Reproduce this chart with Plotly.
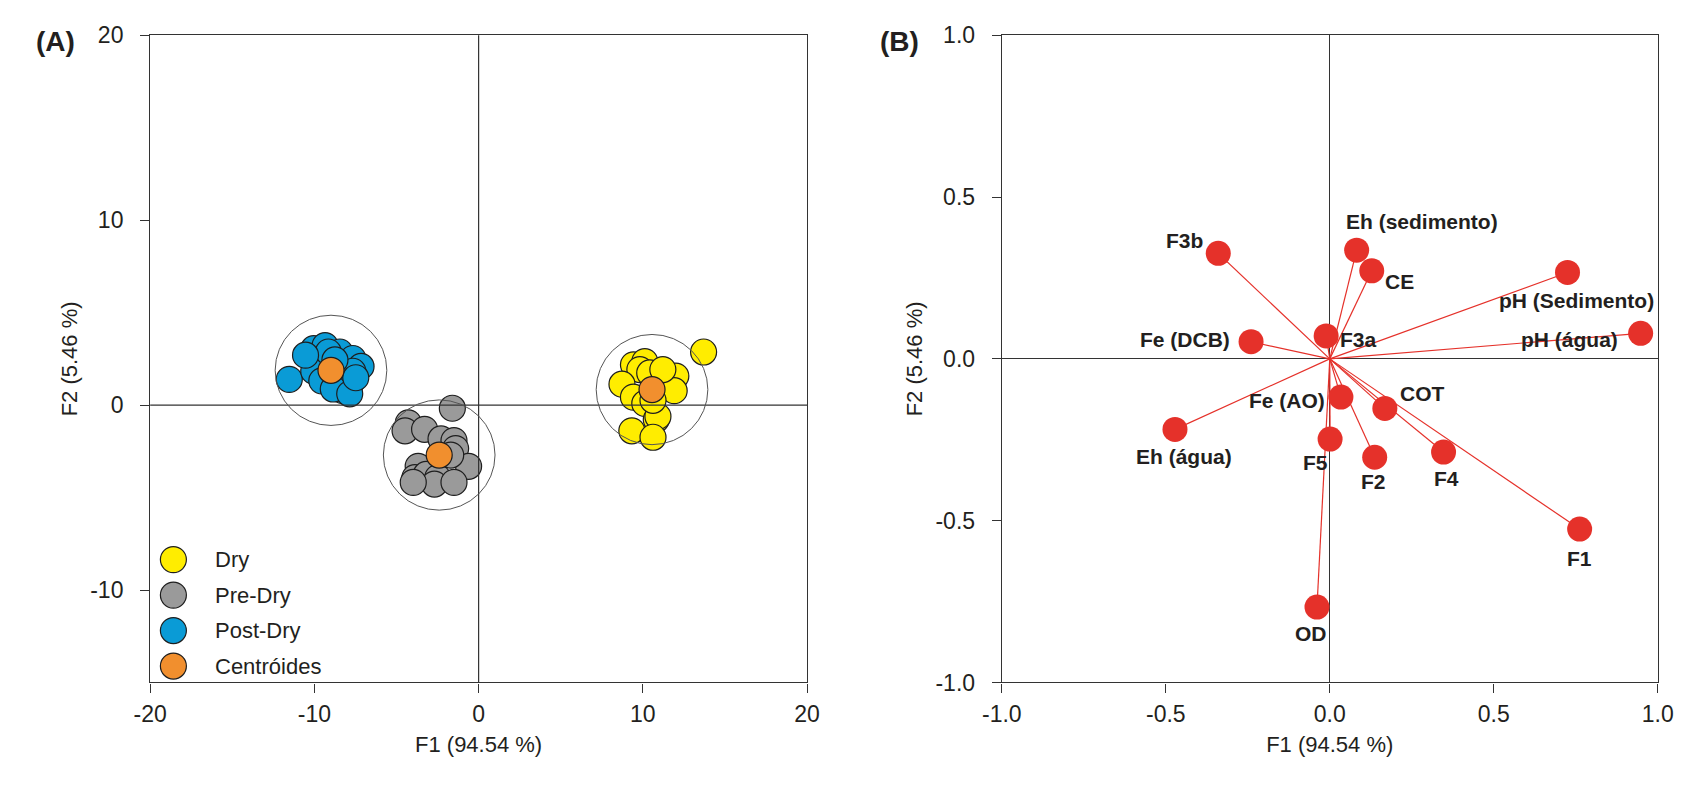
import plotly.graph_objects as go

# ---------------- Panel A data (F1 / F2 scores) ----------------
dry_x = [13.70, 9.43, 10.12, 9.82, 10.42, 12.01, 8.73, 11.91, 9.43, 10.12, 10.82, 10.92, 9.33, 10.62, 11.22, 10.62]
dry_y = [2.87, 2.18, 2.35, 1.92, 1.74, 1.57, 1.13, 0.78, 0.43, 0.09, -0.78, -0.61, -1.39, -1.74, 1.92, 0.26]

predry_x = [-1.60, -4.28, -4.48, -3.29, -2.29, -1.50, -1.40, -0.61, -3.68, -3.88, -3.19, -2.49, -2.69, -1.50, -3.98, -1.70]
predry_y = [-0.17, -0.96, -1.39, -1.31, -1.83, -1.92, -2.35, -3.31, -3.31, -3.92, -3.75, -3.92, -4.27, -4.18, -4.18, -2.70]

postdry_x = [-11.53, -10.04, -9.35, -8.45, -7.66, -7.16, -9.74, -10.04, -9.55, -7.66, -7.76, -8.25, -8.85, -7.85, -9.15, -10.54, -8.75, -7.48]
postdry_y = [1.39, 3.05, 3.22, 2.87, 2.52, 2.09, 2.26, 1.83, 1.31, 1.83, 1.22, 0.78, 0.87, 0.61, 2.87, 2.70, 2.44, 1.48]

centroid_x = [10.56, -2.40, -8.99]   # Dry, Pre-Dry, Post-Dry
centroid_y = [0.84, -2.70, 1.88]

legend_names = ["Dry", "Pre-Dry", "Post-Dry", "Centróides"]

a_xticks = [-20, -10, 0, 10, 20]
a_xticklabels = ["-20", "-10", "0", "10", "20"]
a_yticks = [-10, 0, 10, 20]
a_yticklabels = ["-10", "0", "10", "20"]

# ---------------- Panel B data (variable loadings) ----------------
var_names = ["F1", "F2", "F3a", "F3b", "F4", "F5", "Fe (AO)", "Fe (DCB)", "COT", "CE", "OD",
             "pH (água)", "pH (Sedimento)", "Eh (água)", "Eh (sedimento)"]
load_x = [0.762, 0.137, -0.011, -0.340, 0.347, 0.001, 0.034, -0.240, 0.168, 0.128, -0.039,
          0.948, 0.725, -0.472, 0.082]
load_y = [-0.526, -0.304, 0.071, 0.326, -0.288, -0.248, -0.118, 0.053, -0.153, 0.272, -0.767,
          0.079, 0.267, -0.218, 0.336]

b_ticks = [-1.0, -0.5, 0.0, 0.5, 1.0]
b_ticklabels = ["-1.0", "-0.5", "0.0", "0.5", "1.0"]

# ---------------- styles ----------------
W, H = 1706, 799
FONT = "Arial, Liberation Sans, sans-serif"
C_DRY, C_PRE, C_POST, C_CEN = "#FFED00", "#9A9A9A", "#0A9BD6", "#F18F2E"
C_RED = "#E5312A"
AXC = "#333333"
TXT = "#231F20"

# label offsets (pixels) for panel B annotations
label_offsets = {
    "F1": (0, -29), "F2": (-1, -24), "F3a": (32, -4), "F3b": (-34, 13), "F4": (3, -26),
    "F5": (-15, -23), "Fe (AO)": (-54, -3), "Fe (DCB)": (-66, 2), "COT": (38, 15),
    "CE": (28, -11), "OD": (-6, -26), "pH (água)": (-71, -6), "pH (Sedimento)": (9, -28),
    "Eh (água)": (9, -27), "Eh (sedimento)": (65, 29),
}

fig = go.Figure()

mk_line = dict(color="#1E1E1E", width=1.2)
MS = 26
fig.add_trace(go.Scatter(x=dry_x, y=dry_y, mode="markers", name="Dry",
                         marker=dict(size=MS, color=C_DRY, line=mk_line), xaxis="x", yaxis="y"))
fig.add_trace(go.Scatter(x=predry_x, y=predry_y, mode="markers", name="Pre-Dry",
                         marker=dict(size=MS, color=C_PRE, line=mk_line), xaxis="x", yaxis="y"))
fig.add_trace(go.Scatter(x=postdry_x, y=postdry_y, mode="markers", name="Post-Dry",
                         marker=dict(size=MS, color=C_POST, line=mk_line), xaxis="x", yaxis="y"))
fig.add_trace(go.Scatter(x=centroid_x, y=centroid_y, mode="markers", name="Centróides",
                         marker=dict(size=MS, color=C_CEN, line=mk_line), xaxis="x", yaxis="y"))

# Panel B vectors
vx, vy = [], []
for x, y in zip(load_x, load_y):
    vx += [0, x, None]
    vy += [0, y, None]
fig.add_trace(go.Scatter(x=vx, y=vy, mode="lines", line=dict(color=C_RED, width=1.2),
                         xaxis="x2", yaxis="y2", hoverinfo="skip"))
fig.add_trace(go.Scatter(x=load_x, y=load_y, mode="markers", text=var_names,
                         marker=dict(size=25, color=C_RED), xaxis="x2", yaxis="y2"))

ann = []
for name, x, y in zip(var_names, load_x, load_y):
    dx, dy = label_offsets[name]
    ann.append(dict(x=x, y=y, xref="x2", yref="y2", text="<b>" + name + "</b>", showarrow=False,
                    xanchor="center", yanchor="middle",
                    xshift=dx, yshift=dy, font=dict(family=FONT, size=21, color=TXT)))

# panel letters
ann.append(dict(x=36 / W, y=1 - 29 / H, xref="paper", yref="paper", text="<b>(A)</b>", showarrow=False,
                xanchor="center", yanchor="middle", font=dict(family=FONT, size=28, color=TXT)))
ann.append(dict(x=898 / W, y=1 - 29 / H, xref="paper", yref="paper", text="<b>(B)</b>", showarrow=False,
                xanchor="center", yanchor="middle", font=dict(family=FONT, size=28, color=TXT)))

shapes = []
# zero lines panel A (above markers)
shapes.append(dict(type="line", xref="x", yref="y domain", x0=0, x1=0, y0=0, y1=1,
                   line=dict(color=AXC, width=1.2), layer="above"))
shapes.append(dict(type="line", xref="x domain", yref="y", x0=0, x1=1, y0=0, y1=0,
                   line=dict(color=AXC, width=1.2), layer="above"))
# confidence circles around centroids
rx, ry = 3.40, 2.98
for cx, cy in zip(centroid_x, centroid_y):
    shapes.append(dict(type="circle", xref="x", yref="y", x0=cx - rx, x1=cx + rx, y0=cy - ry, y1=cy + ry,
                       line=dict(color="#555555", width=1), layer="above"))

# manual legend in panel A
leg_colors = [C_DRY, C_PRE, C_POST, C_CEN]
leg_y = [565, 601.7, 638.3, 675]
for name, col, py in zip(legend_names, leg_colors, leg_y):
    shapes.append(dict(type="circle", xref="paper", yref="paper", xsizemode="pixel", ysizemode="pixel",
                       xanchor=156.7 / W, yanchor=1 - py / H, x0=-13, x1=13, y0=-13, y1=13,
                       fillcolor=col, line=dict(color="#1E1E1E", width=1.2), layer="above"))
    ann.append(dict(x=197 / W, y=1 - py / H, xref="paper", yref="paper", text=name, showarrow=False,
                    xanchor="left", yanchor="middle", font=dict(family=FONT, size=22, color=TXT)))

axis_common = dict(showgrid=False, zeroline=False, showline=True, mirror=True, linecolor=AXC,
                   linewidth=1.3, ticks="outside", ticklen=9, tickwidth=1.3, tickcolor=AXC,
                   tickfont=dict(family=FONT, size=23, color=TXT))
title_font = dict(family=FONT, size=22, color=TXT)

ydom = [1 - 692 / H, 1 - 23 / H]
fig.update_layout(
    width=W, height=H, margin=dict(l=0, r=0, t=0, b=0),
    plot_bgcolor="white", paper_bgcolor="white", showlegend=False,
    xaxis=dict(domain=[133 / W, 804 / W], range=[-20, 20], tickvals=a_xticks, ticktext=a_xticklabels,
               anchor="y", title=dict(text="F1 (94.54 %)", font=title_font, standoff=10),
               ticklabelstandoff=2, **axis_common),
    yaxis=dict(domain=ydom, range=[-15, 20], tickvals=a_yticks, ticktext=a_yticklabels, anchor="x",
               title=dict(text="F2 (5.46 %)", font=title_font, standoff=6),
               ticklabelstandoff=12, **axis_common),
    xaxis2=dict(domain=[1003 / W, 1673 / W], range=[-1, 1], tickvals=b_ticks, ticktext=b_ticklabels,
                anchor="y2", title=dict(text="F1 (94.54 %)", font=title_font, standoff=10),
                ticklabelstandoff=2, **axis_common),
    yaxis2=dict(domain=ydom, range=[-1, 1], tickvals=b_ticks, ticktext=b_ticklabels, anchor="x2",
                title=dict(text="F2 (5.46 %)", font=title_font, standoff=6),
                ticklabelstandoff=12, **axis_common),
    annotations=ann, shapes=shapes,
)
fig.layout.xaxis2.zeroline = True
fig.layout.xaxis2.zerolinecolor = AXC
fig.layout.xaxis2.zerolinewidth = 1.2
fig.layout.yaxis2.zeroline = True
fig.layout.yaxis2.zerolinecolor = AXC
fig.layout.yaxis2.zerolinewidth = 1.2

fig.write_html("out.html")
